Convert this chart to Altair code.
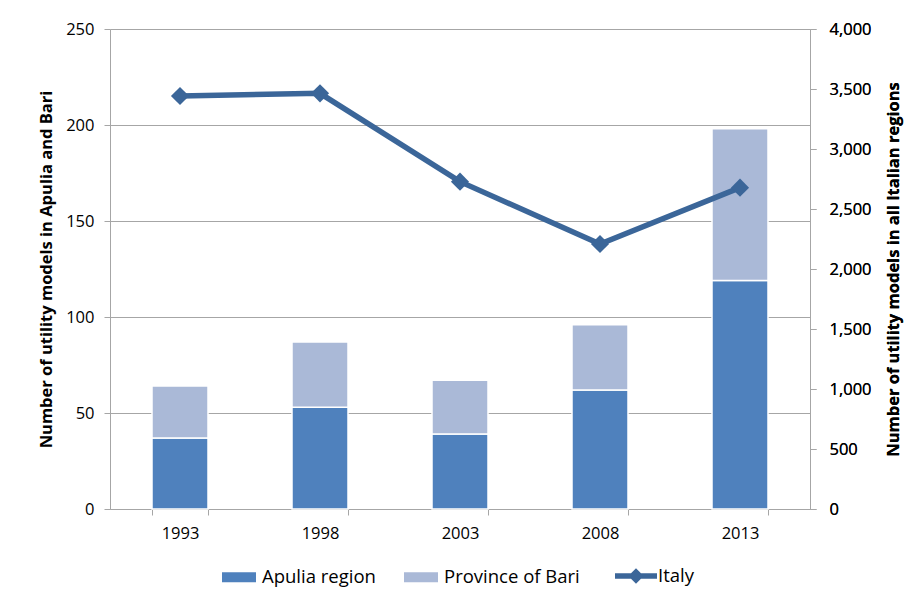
import altair as alt
import pandas as pd

years = ["1993", "1998", "2003", "2008", "2013"]
apulia = [37, 53, 39, 62, 119]
bari_total = [64, 87, 67, 96, 198]
italy = [3442, 3464, 2728, 2208, 2678]

FONT = "Open Sans"
GRID = "#A6A6A6"
LINE_COLOR = "#3B6699"
TICK_FS = 16.5
TITLE_FS = 16.5
LEGEND_FS = 18.5

rows = []
for y, a, t in zip(years, apulia, bari_total):
    rows.append({"year": y, "series": "Apulia region", "lo": 0, "hi": a})
    rows.append({"year": y, "series": "Province of Bari", "lo": a, "hi": t})
bars_df = pd.DataFrame(rows)
line_df = pd.DataFrame({"year": years, "italy": italy, "series": ["Italy"] * len(years)})

xenc = alt.X(
    "year:N",
    sort=years,
    title=None,
    scale=alt.Scale(paddingInner=0.6, paddingOuter=0.3),
    axis=alt.Axis(
        labelAngle=0, labelFontSize=TICK_FS, labelFont=FONT, labelColor="#000",
        tickBand="extent", tickSize=6, tickColor=GRID, domainColor=GRID,
        labelPadding=10, grid=False,
    ),
)

border = alt.Chart(pd.DataFrame({"a": [0]})).mark_rect(
    fill=None, stroke="#A0A0A0", strokeWidth=1
).encode(
    x=alt.value(-103), x2=alt.value(920), y=alt.value(-23), y2=alt.value(640)
)

bars = alt.Chart(bars_df).mark_bar(stroke="white", strokeWidth=1.5).encode(
    x=xenc,
    y=alt.Y(
        "lo:Q",
        scale=alt.Scale(domain=[0, 250]),
        title="Number of utility models in Apulia and Bari",
        axis=alt.Axis(
            values=[0, 50, 100, 150, 200, 250], grid=True, gridColor=GRID,
            tickSize=6, tickColor=GRID, domainColor=GRID,
            labelFontSize=TICK_FS, labelFont=FONT, labelColor="#000", labelPadding=10,
            titleFontSize=TITLE_FS, titleFont=FONT, titleFontWeight="bold", titleColor="#000",
            titlePadding=11,
        ),
    ),
    y2="hi:Q",
    color=alt.Color(
        "series:N",
        scale=alt.Scale(domain=["Apulia region", "Province of Bari"], range=["#4F81BD", "#AAB9D7"]),
        legend=alt.Legend(
            title=None, orient="none", direction="horizontal", legendX=119, legendY=538,
            symbolType="M-1.7,-0.5L1.7,-0.5L1.7,0.5L-1.7,0.5Z", symbolSize=400,
            symbolStrokeWidth=0, labelFontSize=LEGEND_FS, labelFont=FONT, labelColor="#000",
            columnPadding=28, labelOffset=13,
        ),
    ),
)

line_base = alt.Chart(line_df).encode(
    x=xenc,
    y=alt.Y(
        "italy:Q",
        scale=alt.Scale(domain=[0, 4000]),
        title="Number of utility models in all Italian regions",
        axis=alt.Axis(
            orient="right", values=list(range(0, 4001, 500)), format=",d", grid=False,
            tickSize=6, tickColor=GRID, domainColor=GRID,
            labelFontSize=TICK_FS, labelFont=FONT, labelColor="#000", labelPadding=13,
            titleFontSize=TITLE_FS, titleFont=FONT, titleFontWeight="bold", titleColor="#000",
            titlePadding=14, titleAngle=270, titleBaseline="top",
        ),
    ),
)

line = line_base.mark_line(strokeWidth=5.5).encode(
    stroke=alt.Stroke(
        "series:N",
        scale=alt.Scale(domain=["Italy"], range=[LINE_COLOR]),
        legend=alt.Legend(
            title=None, orient="none", legendX=512, legendY=533,
            symbolType="M-1.5,-0.2L1.5,-0.2L1.5,0.2L-1.5,0.2Z M0,-0.55L0.55,0L0,0.55L-0.55,0Z",
            symbolSize=784, symbolFillColor=LINE_COLOR, symbolStrokeWidth=0,
            labelFontSize=LEGEND_FS, labelFont=FONT, labelColor="#000", labelOffset=8,
        ),
    )
)
points = line_base.mark_point(shape="diamond", size=330, filled=True, opacity=1, color=LINE_COLOR)

chart = alt.layer(border, bars, line, points).resolve_scale(
    y="independent", color="independent"
).properties(
    width=700, height=480,
    autosize=alt.AutoSizeParams(type="none"),
    padding={"left": 102, "top": 21, "right": 100, "bottom": 90},
).configure_view(stroke=None).configure(background="white")

chart.save("out.html", embed_options={"renderer": "svg", "actions": False})
